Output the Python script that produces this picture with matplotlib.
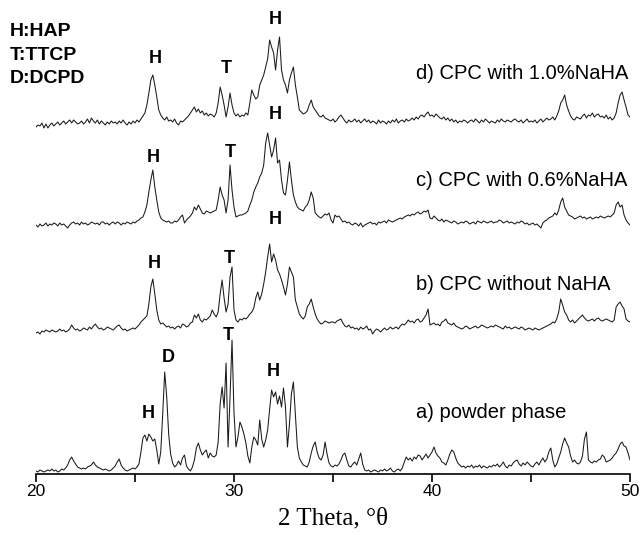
import matplotlib
matplotlib.use("Agg")
import matplotlib.pyplot as plt
import numpy as np

# 2 theta grid, 0.1 deg step (20.0 ... 50.0)
two_theta = np.round(np.arange(200, 501) / 10.0, 1)

# intensities (arbitrary units, one row per degree)
powder_phase = [
    3, 2, 4, 3, 2, 3, 4, 3, 5, 3,
    4, 2, 3, 5, 4, 6, 9, 14, 17, 13,
    10, 7, 6, 5, 6, 5, 7, 8, 9, 12,
    9, 7, 6, 5, 4, 5, 4, 3, 4, 6,
    8, 12, 15, 9, 6, 4, 3, 4, 5, 6,
    5, 7, 10, 22, 36, 39, 33, 40, 37, 33,
    35, 24, 10, 22, 60, 102, 78, 40, 20, 11,
    7, 9, 13, 9, 16, 19, 8, 5, 3, 7,
    14, 26, 31, 24, 19, 22, 24, 16, 21, 18,
    17, 19, 32, 70, 87, 66, 111, 27, 77, 134,
    61, 27, 37, 52, 47, 40, 31, 18, 11, 27,
    37, 34, 29, 54, 35, 27, 34, 44, 65, 84,
    77, 82, 70, 78, 67, 86, 67, 27, 50, 80,
    92, 60, 27, 16, 12, 9, 8, 7, 12, 21,
    28, 32, 22, 16, 14, 19, 32, 20, 11, 8,
    7, 9, 8, 10, 14, 19, 21, 14, 8, 7,
    10, 12, 9, 15, 21, 10, 4, 3, 4, 2,
    3, 4, 3, 2, 4, 3, 5, 3, 4, 6,
    3, 2, 4, 5, 3, 6, 12, 17, 14, 16,
    13, 17, 15, 19, 18, 14, 17, 20, 16, 19,
    22, 27, 21, 18, 16, 12, 11, 9, 14, 20,
    24, 22, 16, 11, 9, 7, 8, 6, 8, 7,
    9, 6, 8, 7, 9, 6, 8, 7, 6, 8,
    7, 9, 8, 10, 7, 9, 12, 8, 6, 9,
    8, 11, 13, 14, 10, 8, 11, 9, 12, 10,
    8, 7, 10, 12, 9, 13, 16, 12, 15, 22,
    26, 14, 7, 10, 16, 22, 30, 36, 31, 27,
    18, 12, 14, 11, 10, 12, 18, 35, 42, 14,
    12, 11, 13, 12, 14, 15, 19, 17, 12, 13,
    14, 16, 19, 21, 25, 30, 32, 28, 27, 21,
    14,
]

cpc_no_naha = [
    -1, 0, -2, 1, 0, 2, 1, 0, 2, 1,
    0, 1, 3, 1, 2, 0, 1, 3, 7, 4,
    2, 3, 1, 2, 4, 3, 2, 5, 3, 6,
    8, 5, 3, 4, 2, 3, 5, 4, 3, 2,
    4, 6, 7, 4, 2, 3, 1, 2, 3, 4,
    3, 5, 7, 10, 12, 14, 16, 28, 45, 53,
    38, 22, 12, 8, 9, 7, 5, 6, 4, 5,
    3, 5, 6, 4, 8, 7, 5, 6, 9, 10,
    17, 14, 18, 12, 10, 13, 12, 14, 16, 22,
    18, 15, 20, 38, 52, 34, 20, 28, 55, 65,
    22, 12, 10, 13, 12, 14, 13, 15, 18, 20,
    24, 34, 40, 32, 38, 48, 60, 75, 88, 70,
    78, 72, 62, 58, 52, 45, 37, 48, 65, 60,
    55, 32, 25, 18, 15, 13, 16, 25, 28, 33,
    25, 18, 13, 10, 8, 9, 11, 10, 9, 10,
    10, 9, 11, 12, 13, 9, 6, 5, 7, 4,
    5, 3, 4, 2, 5, 3, 4, 6, 2, 3,
    -2, 1, 3, 2, 0, 2, 4, 2, 3, 5,
    3, 4, 5, 3, 6, 8, 7, 9, 12, 10,
    11, 9, 12, 13, 10, 11, 14, 17, 23, 7,
    8, 9, 7, 8, 6, 10, 11, 13, 9, 8,
    7, 9, 6, 5, 4, 3, 4, 6, 5, 3,
    4, 5, 6, 4, 5, 7, 6, 5, 4, 5,
    6, 5, 7, 6, 5, 4, 3, 6, 4, 5,
    3, 4, 5, 4, 3, 5, 4, 2, 3, 4,
    3, 2, 4, 3, 2, 3, 4, 5, 6, 7,
    8, 10, 9, 13, 20, 33, 27, 20, 17, 12,
    10, 12, 9, 11, 13, 15, 17, 14, 12, 11,
    12, 13, 11, 13, 14, 12, 11, 12, 13, 12,
    11, 10, 12, 25, 28, 30, 26, 23, 13, 11,
    10,
]

cpc_06_naha = [
    0, -2, 1, -1, 0, 2, -1, 1, 0, 2,
    1, -1, 2, 0, 1, -1, -3, 0, 2, 3,
    1, 2, 0, 3, 1, 2, 0, 1, 3, 2,
    1, 2, 0, 3, 3, 1, 2, 0, 2, 3,
    1, 3, 2, 0, 2, 1, 3, 2, 1, 3,
    2, 4, 5, 7, 8, 13, 20, 33, 45, 55,
    38, 25, 13, 7, 5, 4, 3, 4, 2, 2,
    4, 3, 5, 8, 10, 2, 5, 7, 9, 12,
    18, 15, 20, 16, 12, 11, 14, 13, 12, 13,
    14, 15, 25, 38, 30, 25, 12, 25, 60, 35,
    18, 8, 9, 10, 10, 11, 12, 14, 20, 25,
    33, 38, 42, 48, 52, 60, 82, 92, 80, 68,
    75, 87, 62, 65, 45, 32, 30, 45, 63, 45,
    30, 23, 18, 16, 15, 14, 18, 20, 25, 33,
    27, 12, 10, 8, 7, 9, 11, 10, 12, 5,
    2, 10, 8, 9, 6, 3, 4, 2, 3, 1,
    0, 2, 1, -1, 2, -2, 0, 1, 2, 3,
    1, 2, 0, 3, 2, 3, 4, 2, 5, 4,
    3, 4, 5, 6, 7, 6, 8, 9, 10, 9,
    11, 10, 12, 13, 11, 12, 14, 13, 15, 7,
    6, 9, 7, 5, 4, 6, 3, 5, 4, 3,
    2, 4, 3, 1, 2, 3, 2, 4, 3, 1,
    2, 3, 1, 4, 3, 2, 4, 3, 2, 3,
    4, 2, 3, 3, 5, 4, 2, 3, 4, 2,
    3, 2, 1, 3, 2, 4, 3, 1, 2, 0,
    1, 2, 0, 1, -1, -3, 2, 4, 5, 7,
    8, 9, 12, 10, 15, 23, 27, 18, 14, 10,
    9, 8, 6, 7, 8, 9, 7, 8, 6, 7,
    8, 6, 7, 8, 7, 9, 8, 7, 8, 9,
    8, 10, 12, 20, 23, 18, 20, 10, 5, 2,
    0,
]

cpc_10_naha = [
    -2, 0, -1, 2, -3, 1, -3, 0, 2, -1,
    1, 3, 0, 2, 4, 1, 3, 5, 2, 5,
    3, 1, 2, 4, 1, 3, 6, 2, 7, 4,
    2, 5, 1, 4, 2, 0, 3, 1, 4, 2,
    3, 1, 4, 2, 5, 2, 0, 3, 1, 4,
    2, 5, 3, 6, 9, 12, 20, 32, 45, 50,
    40, 28, 15, 10, 7, 5, 8, 4, 5, 3,
    6, 2, 0, 4, 3, 5, 7, 9, 12, 15,
    18, 13, 16, 12, 14, 10, 12, 9, 11, 10,
    8, 12, 22, 38, 30, 20, 8, 18, 32, 20,
    12, 9, 11, 8, 10, 9, 12, 10, 22, 35,
    30, 26, 28, 40, 45, 50, 58, 66, 85, 78,
    72, 55, 75, 88, 55, 45, 40, 32, 45, 52,
    58, 40, 28, 15, 13, 11, 12, 14, 20, 25,
    18, 15, 12, 9, 8, 10, 7, 6, 5, 4,
    6, 3, 5, 8, 10, 7, 4, 2, 5, 3,
    4, 6, 3, 5, 2, 4, 6, 3, 5, 2,
    4, 3, 1, 5, 2, 4, 3, 1, 4, 2,
    5, 3, 6, 2, 4, 5, 3, 6, 4, 5,
    7, 5, 8, 6, 9, 10, 8, 11, 13, 9,
    10, 8, 11, 9, 7, 6, 8, 5, 7, 4,
    6, 3, 5, 2, 4, 3, 5, 4, 2, 4,
    5, 3, 6, 4, 2, 5, 3, 6, 4, 2,
    4, 3, 2, 5, 3, 6, 4, 3, 5, 4,
    3, 5, 6, 4, 3, 5, 2, 4, 6, 3,
    4, 3, 5, 2, 4, 6, 3, 5, 7, 5,
    6, 8, 5, 9, 14, 22, 25, 30, 20, 14,
    9, 6, 5, 8, 7, 6, 9, 11, 7, 10,
    9, 12, 8, 10, 11, 8, 9, 7, 10, 6,
    8, 5, 7, 12, 22, 30, 33, 25, 18, 10,
    8,
]

series_names = ["a) powder phase", "b) CPC without NaHA",
                "c) CPC with 0.6%NaHA", "d) CPC with 1.0%NaHA"]
series = [powder_phase, cpc_no_naha, cpc_06_naha, cpc_10_naha]
offsets = [0, 142, 249, 349]
name_y = [62, 189, 294, 401]

# phase marks: (letter, 2theta, height)
marks = [
    ("H", 25.66, 61), ("D", 26.67, 117), ("T", 29.7, 138), ("H", 31.97, 102),
    ("H", 25.96, 211), ("T", 29.75, 216), ("H", 32.07, 255),
    ("H", 25.9, 317), ("T", 29.8, 322), ("H", 32.07, 360),
    ("H", 26.0, 416), ("T", 29.63, 406), ("H", 32.1, 455),
]
legend_lines = ["H:HAP", "T:TTCP", "D:DCPD"]
legend_y = [443, 419, 396]

sans = ["Liberation Sans", "DejaVu Sans"]

fig = plt.figure(figsize=(6.4, 5.35), dpi=100)
ax = fig.add_axes([36 / 640, 61 / 535, 594 / 640, 474 / 535])

for vals, off in zip(series, offsets):
    ax.plot(two_theta, np.array(vals) + off, color="#1a1a1a", lw=0.75)

for name, y in zip(series_names, name_y):
    ax.text(39.2, y, name, fontsize=14.5, family=sans, ha="left", va="center")

for letter, x, y in marks:
    ax.text(x, y, letter, fontsize=13, fontweight="bold", family=sans,
            ha="center", va="center")

for s, y in zip(legend_lines, legend_y):
    ax.text(18.68, y, s, fontsize=14, fontweight="bold",
            family=sans, ha="left", va="center", clip_on=False)

ax.set_xlim(20, 50)
ax.set_ylim(0, 474)
for side in ["left", "right", "top"]:
    ax.spines[side].set_visible(False)
ax.spines["bottom"].set_linewidth(1.2)
ax.set_yticks([])
ax.set_xticks([20, 30, 40, 50])
ax.set_xticks([25, 35, 45], minor=True)
ax.tick_params(axis="x", which="both", direction="out", length=6, width=1.2,
               pad=1)
for lab in ax.get_xticklabels():
    lab.set_family(sans)
    lab.set_fontsize(12.5)
ax.set_xlabel("2 Theta, \u00b0\u03b8", fontsize=18,
              family=["Liberation Serif", "DejaVu Serif"], labelpad=6)
ax.patch.set_visible(False)

fig.savefig("out.png", dpi=100)
